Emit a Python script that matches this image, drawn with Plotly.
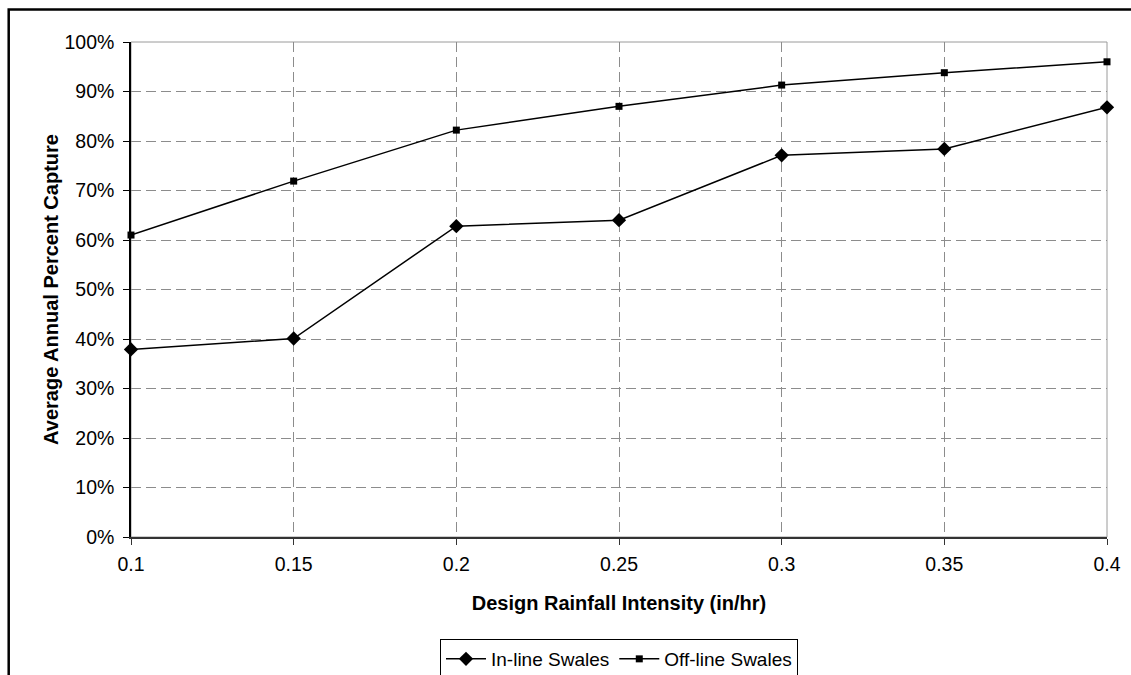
import plotly.graph_objects as go

intensity = [0.1, 0.15, 0.2, 0.25, 0.3, 0.35, 0.4]
tick_labels = ["0.1", "0.15", "0.2", "0.25", "0.3", "0.35", "0.4"]
inline_swales = [0.379, 0.401, 0.628, 0.640, 0.771, 0.784, 0.868]
offline_swales = [0.610, 0.719, 0.822, 0.870, 0.913, 0.938, 0.960]

FONT = "Arial, Liberation Sans, sans-serif"

fig = go.Figure()
fig.add_trace(go.Scatter(
    x=intensity, y=inline_swales, name="In-line Swales", mode="lines+markers",
    line=dict(color="black", width=1.5),
    marker=dict(symbol="diamond", size=11, color="black"),
    cliponaxis=False,
))
fig.add_trace(go.Scatter(
    x=intensity, y=offline_swales, name="Off-line Swales", mode="lines+markers",
    line=dict(color="black", width=1.5),
    marker=dict(symbol="square", size=7, color="black"),
    cliponaxis=False,
))

W, H = 1131, 675
L, R, T, B = 131, 24, 42, 138
pw, ph = W - L - R, H - T - B

def px_x(p):
    return (p - L) / pw

def px_y(p):
    return (H - B - p) / ph

shapes = [
    # plot area frame (gray)
    dict(type="rect", xref="paper", yref="paper", x0=0, x1=1, y0=0, y1=1,
         line=dict(color="#9a9a9a", width=1), layer="below"),
    # outer chart border
    dict(type="rect", xref="paper", yref="paper",
         x0=px_x(8.7), x1=px_x(1145), y0=px_y(700), y1=px_y(9.5),
         line=dict(color="black", width=2.5), layer="above"),
]

fig.update_layout(
    width=W, height=H,
    margin=dict(l=L, r=R, t=T, b=B, autoexpand=False),
    paper_bgcolor="white", plot_bgcolor="white",
    font=dict(family=FONT, size=19.5, color="black"),
    shapes=shapes,
    showlegend=True,
    legend=dict(
        orientation="h", x=0.5, xanchor="center",
        y=px_y(639), yanchor="top",
        bordercolor="black", borderwidth=1, bgcolor="white",
        font=dict(family=FONT, size=19, color="black"),
        itemwidth=40, traceorder="normal",
    ),
    xaxis=dict(
        range=[0.1, 0.4], tickvals=intensity, ticktext=tick_labels,
        showgrid=True, gridcolor="#8c8c8c", griddash="10px,5px", gridwidth=1,
        showline=True, linecolor="#333333", linewidth=2,
        ticks="outside", ticklen=6, tickcolor="#333333", tickwidth=1,
        ticklabelstandoff=3,
        zeroline=False,
        title=dict(text="<b>Design Rainfall Intensity (in/hr)</b>",
                   font=dict(family=FONT, size=20), standoff=22),
    ),
    yaxis=dict(
        range=[0, 1], dtick=0.1, tick0=0, tickformat=".0%",
        showgrid=True, gridcolor="#8c8c8c", griddash="10px,5px", gridwidth=1,
        showline=True, linecolor="black", linewidth=1.5,
        ticks="outside", ticklen=6, tickcolor="black", tickwidth=1,
        ticklabelstandoff=5,
        zeroline=False,
        title=dict(text="<b>Average Annual Percent Capture</b>",
                   font=dict(family=FONT, size=20), standoff=0),
    ),
)

fig.write_html("out.html")
